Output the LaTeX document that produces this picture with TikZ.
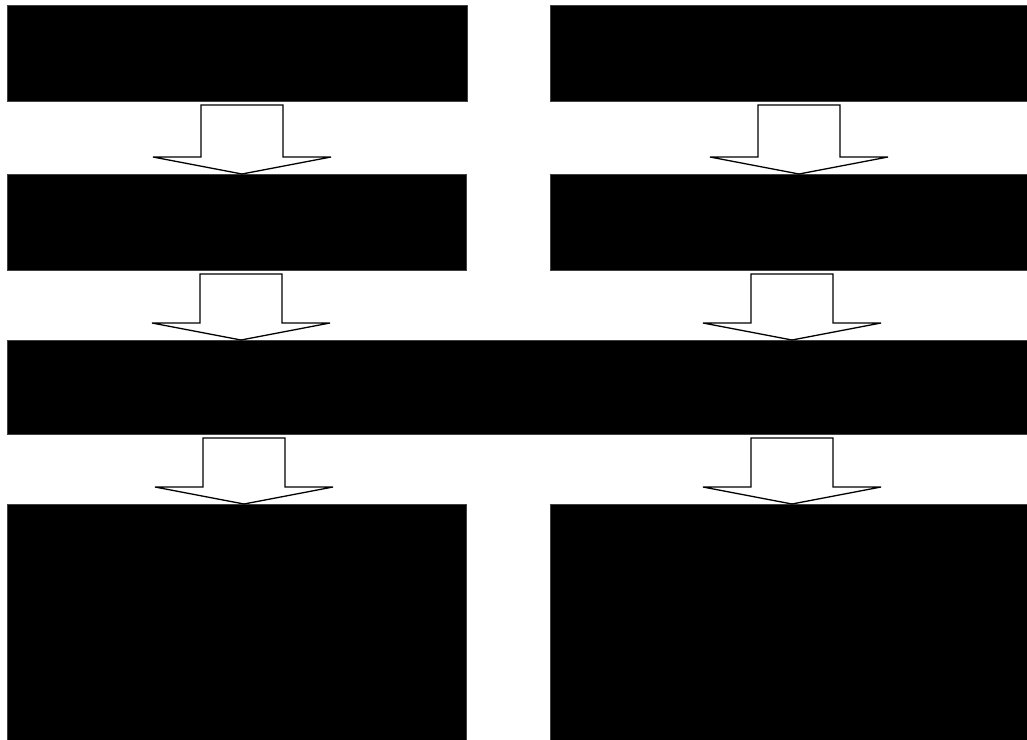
\documentclass[tikz,border=0pt]{standalone}
\usepackage{tikz}
\usetikzlibrary{calc}
\definecolor{Ink}{HTML}{000000}
\definecolor{Paper}{HTML}{FFFFFF}
\tikzset{
  figbox/.style={fill=Ink,draw=Ink!75,line width=0.6bp,inner sep=0bp,
    outer sep=0bp,anchor=north west},
  figarrowline/.style={draw=Ink,fill=Paper,line width=1.3bp,line join=miter}
}
% block arrow from the bottom of #2 down onto the top of #3, centred at x=#1
\newcommand{\figarrow}[3]{
  \path (#1,0 |- #2.south) coordinate (fa-top)
        (#1,0 |- #3.north) coordinate (fa-tip);
  \draw[figarrowline]
    ([xshift=-41bp,yshift=-4bp]fa-top) -- ([xshift=41bp,yshift=-4bp]fa-top)
    -- ([xshift=41bp,yshift=17bp]fa-tip) -- ([xshift=89bp,yshift=17bp]fa-tip)
    -- (fa-tip) -- ([xshift=-89bp,yshift=17bp]fa-tip)
    -- ([xshift=-41bp,yshift=17bp]fa-tip) -- cycle;
}

\begin{document}
\begin{tikzpicture}[x=1bp,y=-1bp]
  \path[use as bounding box] (0,0) rectangle (1027,740);
  \fill[Paper] (0,0) rectangle (1027,740);

  % two columns of boxes, joined in the middle row
  \node[figbox,minimum width=460bp,minimum height=96bp] (firstL) at (7,5) {};
  \node[figbox,minimum width=477bp,minimum height=96bp] (firstR) at (550,5) {};
  \node[figbox,minimum width=459bp,minimum height=96bp] (secondL) at (7,174) {};
  \node[figbox,minimum width=477bp,minimum height=96bp] (secondR) at (550,174) {};
  \node[figbox,minimum width=1020bp,minimum height=94bp] (joint) at (7,340) {};
  \node[figbox,minimum width=459bp,minimum height=236bp] (lastL) at (7,504) {};
  \node[figbox,minimum width=477bp,minimum height=236bp] (lastR) at (550,504) {};

  \figarrow{242}{firstL}{secondL}
  \figarrow{799}{firstR}{secondR}
  \figarrow{241}{secondL}{joint}
  \figarrow{792}{secondR}{joint}
  \figarrow{244}{joint}{lastL}
  \figarrow{792}{joint}{lastR}
\end{tikzpicture}
\end{document}
